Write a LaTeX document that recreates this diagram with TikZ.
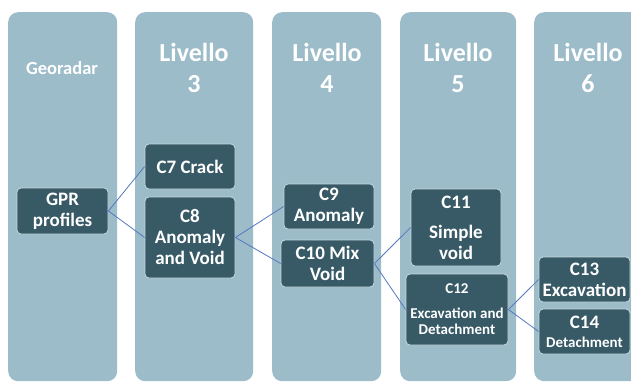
\documentclass[tikz,border=0pt]{standalone}
\usepackage{fontspec}
\setmainfont{Carlito}
\usetikzlibrary{positioning}
\definecolor{panelc}{RGB}{155,188,200}
\definecolor{boxc}{RGB}{55,90,102}
\definecolor{boxline}{RGB}{200,218,224}
\definecolor{linkc}{RGB}{84,120,192}

\begin{document}
\begin{tikzpicture}[x=1pt,y=-1pt,
	panel/.style={rectangle,rounded corners=10pt,fill=panelc,anchor=north west,minimum height=369pt},
	title/.style={text=white,align=center,font=\bfseries\fontsize{26}{31}\selectfont},
	place/.style={rectangle,rounded corners=4pt,fill=boxc,draw=boxline,line width=0.8pt,
		text=white,align=center,inner sep=1pt,minimum width=90pt,minimum height=45pt,
		font=\bfseries\fontsize{19}{21}\selectfont},
	link/.style={draw=linkc,line width=0.8pt}]
	\clip (0,0) rectangle (631,383);
	% columns
	\node (col1)[panel,minimum width=109pt] at (8,12){};
	\node (col2)[panel,minimum width=118pt] at (135,12){};
	\node (col3)[panel,minimum width=109pt] at (272,12){};
	\node (col4)[panel,minimum width=116pt] at (400,12){};
	\node (col5)[panel,minimum width=110pt] at (534,12){};
	% titles
	\node (geo)[title,font=\bfseries\fontsize{18.5}{22}\selectfont] at (62,68){Georadar};
	\node (lv3)[title] at (194,68){Livello\\3};
	\node (lv4)[title] at (327,68){Livello\\4};
	\node (lv5)[title] at (458,68){Livello\\5};
	\node (lv6)[title] at (588,68){Livello\\6};
	% boxes
	\node (gpr)[place,minimum width=91pt,minimum height=46pt] at (62.5,211){GPR\\profiles};
	\node (c7)[place] at (190,166.5){C7 Crack};
	\node (c8)[place,minimum height=81pt] at (190,237.5){C8\\Anomaly\\and Void};
	\node (c9)[place] at (329,206.5){C9\\Anomaly};
	\node (c10)[place,minimum width=93pt,minimum height=47pt] at (327.5,263.5){C10 Mix\\Void};
	\node (c11)[place,minimum height=77pt] at (456,227.5){C11\\[9pt]Simple\\void};
	\node (c12)[place,minimum width=102pt,minimum height=71pt,font=\bfseries\fontsize{15}{16.5}\selectfont]
		at (457,309.5){C12\\[8pt]Excavation and\\Detachment};
	\node (c13)[place,minimum width=91pt] at (584.5,279.5){C13\\Excavation};
	\node (c14)[place,minimum width=91pt] at (584.5,331.5){C14\\[-2pt]{\fontsize{15}{16}\selectfont Detachment}};
	% links
	\draw[link] (gpr.east) -- (c7.west);
	\draw[link] (gpr.east) -- (c8.west);
	\draw[link] (c8.east) -- (c9.west);
	\draw[link] (c8.east) -- (c10.west);
	\draw[link] (c10.east) -- (c11.west);
	\draw[link] (c10.east) -- (c12.west);
	\draw[link] (c12.east) -- (c13.west);
	\draw[link] (c12.east) -- (c14.west);
\end{tikzpicture}
\end{document}
